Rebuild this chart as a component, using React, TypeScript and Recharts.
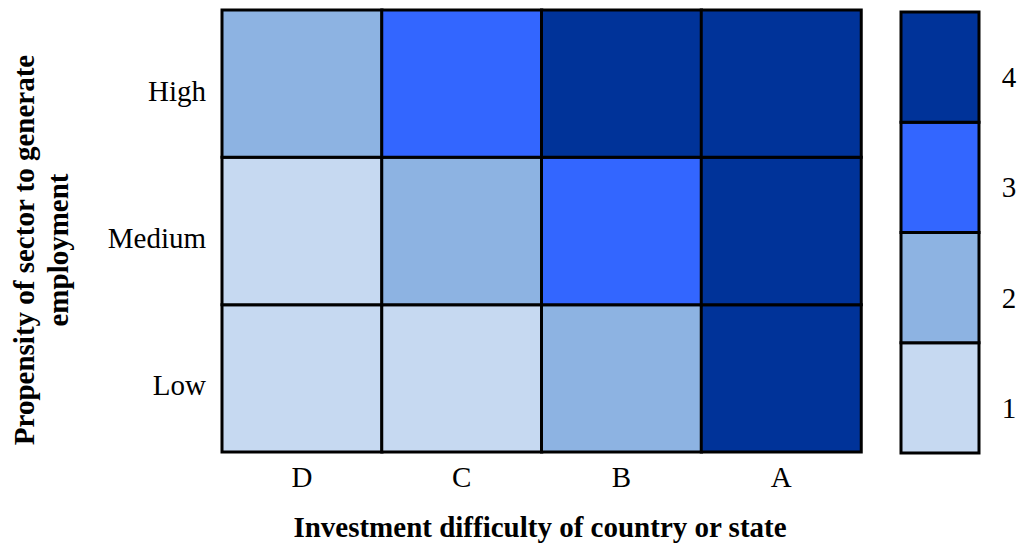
import { BarChart, Bar, XAxis, YAxis, Cell } from "recharts";

// investment difficulty (x) and employment propensity (y)
const columns = ["D", "C", "B", "A"];
const rowLabels = ["Low", "Medium", "High"];

// level (1-4) of each cell, one array per row, in column order
const lowLevels = [1, 1, 2, 4];
const mediumLevels = [1, 2, 3, 4];
const highLevels = [2, 3, 4, 4];

// colour scale
const scaleLevels = [1, 2, 3, 4];
const levelColors = ["#C6D9F1", "#8DB3E2", "#3366FF", "#003399"];

const rowTicks = [0.5, 1.5, 2.5];
const scaleTicks = [0.5, 1.5, 2.5, 3.5];

const font = '"Liberation Serif", "Times New Roman", serif';

// every cell is one unit tall; colour comes from its level
const gridData = columns.map((col, i) => ({
    col,
    low: 1,
    medium: 1,
    high: 1,
    lowLevel: lowLevels[i],
    mediumLevel: mediumLevels[i],
    highLevel: highLevels[i],
}));

const scaleData = [
    scaleLevels.reduce(
        (acc, lv) => ({ ...acc, ["s" + lv]: 1 }),
        { name: "scale" } as Record<string, any>
    ),
];

const RowTick = (props: any) => {
    const { x, y, payload } = props;
    return (
        <text x={x} y={y + 17} textAnchor="end" fontFamily={font} fontSize={29} fill="#000">
            {rowLabels[Math.floor(payload.value)]}
        </text>
    );
};

const ColTick = (props: any) => {
    const { x, y, payload } = props;
    return (
        <text x={x} y={y + 35} textAnchor="middle" fontFamily={font} fontSize={29} fill="#000">
            {payload.value}
        </text>
    );
};

const ScaleTick = (props: any) => {
    const { x, y, payload } = props;
    return (
        <text x={x + 30} y={y + 20} textAnchor="middle" fontFamily={font} fontSize={29} fill="#000">
            {scaleLevels[Math.floor(payload.value)]}
        </text>
    );
};

const renderYTitle = () => (
    <text
        transform="translate(0,250) rotate(-90)"
        textAnchor="middle"
        fontFamily={font}
        fontWeight="bold"
        fontSize={29}
        fill="#000"
    >
        <tspan x={0} y={34}>Propensity of sector to generate</tspan>
        <tspan x={0} y={68}>employment</tspan>
    </text>
);

const renderXTitle = () => (
    <text x={540} y={537} textAnchor="middle" fontFamily={font} fontWeight="bold" fontSize={29} fill="#000">
        Investment difficulty of country or state
    </text>
);

const rows = [
    { key: "low", levels: lowLevels },
    { key: "medium", levels: mediumLevels },
    { key: "high", levels: highLevels },
];

export default function App() {
    return (
        <div style={{ position: "absolute", left: 0, top: 0, width: 1027, height: 545, background: "#fff" }}>
            <div style={{ position: "absolute", left: 0, top: 0 }}>
                <BarChart
                    width={880}
                    height={545}
                    data={gridData}
                    margin={{ top: 10, right: 19, left: 0, bottom: 0 }}
                    barCategoryGap={0}
                    barGap={0}
                >
                    <XAxis
                        dataKey="col"
                        height={93}
                        axisLine={false}
                        tickLine={false}
                        tickSize={0}
                        tickMargin={0}
                        interval={0}
                        tick={<ColTick />}
                        label={{ content: renderXTitle }}
                    />
                    <YAxis
                        type="number"
                        domain={[0, 3]}
                        ticks={rowTicks}
                        width={222}
                        axisLine={false}
                        tickLine={false}
                        tickSize={0}
                        tickMargin={16}
                        tick={<RowTick />}
                        label={{ content: renderYTitle }}
                    />
                    {rows.map(r => (
                        <Bar
                            key={r.key}
                            dataKey={r.key}
                            stackId="grid"
                            stroke="#000"
                            strokeWidth={3}
                            isAnimationActive={false}
                        >
                            {r.levels.map((lv, i) => (
                                <Cell key={i} fill={levelColors[lv - 1]} />
                            ))}
                        </Bar>
                    ))}
                </BarChart>
            </div>

            <div style={{ position: "absolute", left: 880, top: 0 }}>
                <BarChart
                    width={147}
                    height={545}
                    data={scaleData}
                    margin={{ top: 12, right: 0, left: 21, bottom: 92 }}
                    barCategoryGap={0}
                    barGap={0}
                >
                    <XAxis dataKey="name" hide />
                    <YAxis
                        type="number"
                        orientation="right"
                        domain={[0, 4]}
                        ticks={scaleTicks}
                        width={48}
                        axisLine={false}
                        tickLine={false}
                        tickSize={0}
                        tickMargin={0}
                        tick={<ScaleTick />}
                    />
                    {scaleLevels.map(lv => (
                        <Bar
                            key={lv}
                            dataKey={"s" + lv}
                            stackId="scale"
                            fill={levelColors[lv - 1]}
                            stroke="#000"
                            strokeWidth={3}
                            isAnimationActive={false}
                        />
                    ))}
                </BarChart>
            </div>
        </div>
    );
}
